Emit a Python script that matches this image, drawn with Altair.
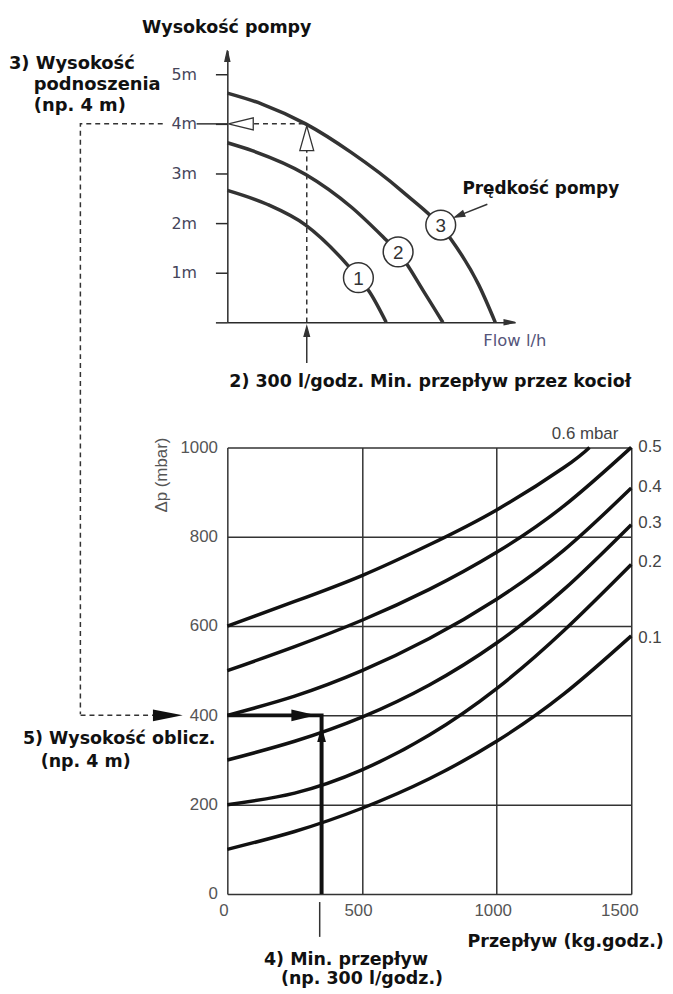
import altair as alt
import pandas as pd

# ---------------- top chart: pump curves (flow l/h, head m) ----------------
SPEED_NAMES = ["1", "2", "3"]
SPEED1_FLOW = [0, 150, 296, 450, 495, 536, 600]
SPEED1_HEAD = [2.66, 2.38, 1.96, 1.18, 0.90, 0.62, 0.0]
SPEED2_FLOW = [0, 94, 296, 469, 600, 645, 742, 814]
SPEED2_HEAD = [3.62, 3.46, 2.98, 2.32, 1.66, 1.42, 0.62, 0.0]
SPEED3_FLOW = [0, 131, 296, 469, 656, 844, 949, 1012]
SPEED3_HEAD = [4.62, 4.40, 4.00, 3.42, 2.66, 1.68, 0.76, 0.0]
BADGE_FLOW = [495, 645, 806]
BADGE_HEAD = [0.90, 1.42, 1.96]
HEAD_TICKS = [0, 1, 2, 3, 4, 5]
HEAD_MAX = 5.48
FLOW_MAX = 1087
MIN_FLOW = 300      # l/h
DESIGN_HEAD = 4     # m

# ---------------- bottom chart: pressure-drop curves ----------------
KG_FLOW = [0, 250, 500, 750, 1000, 1250, 1500]
KG_FLOW_06 = [0, 250, 500, 750, 1000, 1250, 1345]
DP_06 = [600, 655, 713, 782, 860, 955, 1000]
DP_05 = [500, 554, 613, 682, 765, 869, 1000]
DP_04 = [400, 443, 500, 572, 660, 770, 909]
DP_03 = [300, 342, 396, 468, 562, 682, 827]
DP_02 = [200, 226, 278, 356, 460, 590, 738]
DP_01 = [100, 140, 192, 258, 342, 448, 578]
CURVE_NAMES = ["0.6 mbar", "0.5", "0.4", "0.3", "0.2", "0.1"]
CURVE_LABEL_Q = [1205, 1526, 1526, 1526, 1526, 1526]
CURVE_LABEL_P = [1029, 1000, 911, 831, 744, 573]
DP_TICKS = [0, 200, 400, 600, 800, 1000]
KG_TICKS = [0, 500, 1000, 1500]
DESIGN_DP = 400
MIN_KG = 350

INK = "#2a2a2a"
BOLD = "DejaVu Sans"
SANS = "Liberation Sans"

# ======================= TOP PANEL =======================
txs = alt.Scale(domain=[0, FLOW_MAX], nice=False, zero=False)
tys = alt.Scale(domain=[0, HEAD_MAX], nice=False, zero=False)
txa = alt.Axis(title=None, grid=False, labels=False, ticks=False,
               domainColor=INK, domainWidth=1.5)
tya = alt.Axis(title=None, grid=False, values=HEAD_TICKS,
               labelExpr="datum.value == 0 ? '' : datum.value + 'm'",
               tickSize=12, tickWidth=1.5, tickColor=INK,
               domainColor=INK, domainWidth=1.5, labelPadding=19,
               labelFont="DejaVu Sans", labelFontSize=16, labelColor="#45455a")


def TX(field="f"):
    return alt.X(f"{field}:Q", scale=txs, axis=txa)


def TY(field="m"):
    return alt.Y(f"{field}:Q", scale=tys, axis=tya)


pump_rows = []
for name, fl, hd in zip(SPEED_NAMES, [SPEED1_FLOW, SPEED2_FLOW, SPEED3_FLOW],
                        [SPEED1_HEAD, SPEED2_HEAD, SPEED3_HEAD]):
    for i, (a, b) in enumerate(zip(fl, hd)):
        pump_rows.append({"speed": name, "i": i, "f": a, "m": b})
pump_df = pd.DataFrame(pump_rows)

pump_lines = alt.Chart(pump_df).mark_line(
    interpolate="monotone", color="#333", strokeWidth=3.5
).encode(x=TX(), y=TY(), detail="speed:N", order="i:Q")

top_dash_df = pd.DataFrame([
    {"seg": "a", "i": 0, "f": -244, "m": DESIGN_HEAD},
    {"seg": "a", "i": 1, "f": -555, "m": DESIGN_HEAD},
    {"seg": "a", "i": 2, "f": -555, "m": -7.9},
    {"seg": "b", "i": 0, "f": 101, "m": DESIGN_HEAD},
    {"seg": "b", "i": 1, "f": MIN_FLOW, "m": DESIGN_HEAD},
    {"seg": "c", "i": 0, "f": MIN_FLOW, "m": 0},
    {"seg": "c", "i": 1, "f": MIN_FLOW, "m": 3.46},
])
top_dash = alt.Chart(top_dash_df).mark_line(
    color="#333", strokeWidth=1.5, strokeDash=[5, 4]
).encode(x=TX(), y=TY(), detail="seg:N", order="i:Q")

top_rule_df = pd.DataFrame([
    {"f": -116, "f2": 0, "m": DESIGN_HEAD, "m2": DESIGN_HEAD},
    {"f": MIN_FLOW, "f2": MIN_FLOW, "m": -0.18, "m2": -0.82},
    {"f": 982, "f2": 876, "m": 2.38, "m2": 2.156},
])
top_rules = alt.Chart(top_rule_df).mark_rule(color="#333", strokeWidth=1.5).encode(
    x=TX(), x2=alt.X2("f2"), y=TY(), y2=alt.Y2("m2"))

top_head_df = pd.DataFrame([
    {"f": 0, "m": 5.37, "shape": "M0,-1L0.45,1L-0.45,1Z", "size": 121, "angle": 0, "fill": "#333"},
    {"f": 1066, "m": 0, "shape": "M1,0L-1,-0.45L-1,0.45Z", "size": 121, "angle": 0, "fill": "#333"},
    {"f": 51, "m": DESIGN_HEAD, "shape": "M-1,0L1,-0.48L1,0.48Z", "size": 625, "angle": 0, "fill": "white"},
    {"f": MIN_FLOW, "m": 3.71, "shape": "M0,-1L0.56,1L-0.56,1Z", "size": 625, "angle": 0, "fill": "white"},
    {"f": MIN_FLOW, "m": -0.18, "shape": "M0,-1L0.55,1L-0.55,1Z", "size": 100, "angle": 0, "fill": "#333"},
    {"f": 876, "m": 2.156, "shape": "M0,-1L0.6,1L-0.6,1Z", "size": 100, "angle": 248, "fill": "#333"},
])
top_heads = alt.Chart(top_head_df).mark_point(
    filled=True, stroke="#333", strokeWidth=1.3, opacity=1, fillOpacity=1
).encode(x=TX(), y=TY(),
         shape=alt.Shape("shape:N", scale=None),
         size=alt.Size("size:Q", scale=None),
         angle=alt.Angle("angle:Q", scale=None),
         fill=alt.Fill("fill:N", scale=None))

badge_df = pd.DataFrame({"f": BADGE_FLOW, "m": BADGE_HEAD, "t": SPEED_NAMES})
badges = alt.Chart(badge_df).mark_point(
    shape="circle", size=900, filled=True, fill="white", stroke="#333",
    strokeWidth=1.5, opacity=1, fillOpacity=1
).encode(x=TX(), y=TY())
badge_txt = alt.Chart(badge_df).mark_text(
    font=SANS, fontSize=19, color="#333", align="center", baseline="middle", dy=1
).encode(x=TX(), y=TY(), text="t:N")

top_bold_df = pd.DataFrame([
    {"t": "Wysokość pompy", "f": -322, "m": 5.84, "fs": 17.6},
    {"t": "3) Wysokość", "f": -825, "m": 5.10, "fs": 18},
    {"t": "podnoszenia", "f": -731, "m": 4.68, "fs": 18},
    {"t": "(np. 4 m)", "f": -731, "m": 4.26, "fs": 18},
    {"t": "Prędkość pompy", "f": 888, "m": 2.59, "fs": 17},
    {"t": "2) 300 l/godz. Min. przepływ przez kocioł", "f": 7.5, "m": -1.30, "fs": 17.6},
])
top_bold = alt.Chart(top_bold_df).mark_text(
    font=BOLD, fontWeight="bold", color="#111",
    align="left", baseline="alphabetic"
).encode(x=TX(), y=TY(), text="t:N", size=alt.Size("fs:Q", scale=None))

flow_lbl = alt.Chart(pd.DataFrame([{"t": "Flow l/h", "f": 967, "m": -0.48}])).mark_text(
    font="DejaVu Sans", fontSize=16.5, color="#55557a", align="left", baseline="alphabetic"
).encode(x=TX(), y=TY(), text="t:N")

top = alt.layer(pump_lines, top_dash, top_rules, top_heads, badges, badge_txt,
                top_bold, flow_lbl).properties(width=290, height=274)

# ======================= BOTTOM PANEL =======================
bxs = alt.Scale(domain=[0, 1500], nice=False, zero=False)
bys = alt.Scale(domain=[0, 1000], nice=False, zero=False)
bxa = alt.Axis(title=None, values=KG_TICKS, format="d", grid=True, gridColor="#333",
               gridWidth=1.5, gridOpacity=1, domain=False, ticks=False, labelFont=SANS,
               labelFontSize=17, labelColor="#555", labelPadding=9, labelFlush=False,
               labelOffset={"condition": {"test": "datum.value == 1500", "value": -12}, "value": -4})
bya = alt.Axis(title=None, values=DP_TICKS, format="d", grid=True, gridColor="#333",
               gridWidth=1.5, gridOpacity=1, domain=False, ticks=False, labelFont=SANS,
               labelFontSize=17, labelColor="#555", labelPadding=10, labelFlush=False)


def BX(field="q"):
    return alt.X(f"{field}:Q", scale=bxs, axis=bxa)


def BY(field="p"):
    return alt.Y(f"{field}:Q", scale=bys, axis=bya)


dp_rows = []
for name, xs, ys in zip(CURVE_NAMES,
                        [KG_FLOW_06, KG_FLOW, KG_FLOW, KG_FLOW, KG_FLOW, KG_FLOW],
                        [DP_06, DP_05, DP_04, DP_03, DP_02, DP_01]):
    for i, (a, b) in enumerate(zip(xs, ys)):
        dp_rows.append({"c": name, "i": i, "q": a, "p": b})
dp_df = pd.DataFrame(dp_rows)

dp_lines = alt.Chart(dp_df).mark_line(
    interpolate="natural", color="#111", strokeWidth=3.5
).encode(x=BX(), y=BY(), detail="c:N", order="i:Q")

bot_dash = alt.Chart(pd.DataFrame([
    {"i": 0, "q": -545, "p": DESIGN_DP}, {"i": 1, "q": -269, "p": DESIGN_DP}
])).mark_line(color="#333", strokeWidth=1.5, strokeDash=[5, 4]).encode(
    x=BX(), y=BY(), order="i:Q")

thick = alt.Chart(pd.DataFrame([
    {"i": 0, "q": 0, "p": DESIGN_DP},
    {"i": 1, "q": MIN_KG, "p": DESIGN_DP},
    {"i": 2, "q": MIN_KG, "p": 0},
])).mark_line(color="#111", strokeWidth=4, strokeJoin="miter", strokeCap="butt").encode(
    x=BX(), y=BY(), order="i:Q")

pointer = alt.Chart(pd.DataFrame([{"q": 343, "p": -18, "p2": -96}])).mark_rule(
    color="#333", strokeWidth=1.5).encode(x=BX(), y=BY(), y2=alt.Y2("p2"))

bot_head_df = pd.DataFrame([
    {"q": -221, "p": DESIGN_DP, "shape": "M1,0L-1,-0.4L-1,0.4Z", "size": 900},
    {"q": 284, "p": DESIGN_DP, "shape": "M1,0L-1,-0.48L-1,0.48Z", "size": 625},
    {"q": MIN_KG, "p": 358, "shape": "M0,-1L0.55,1L-0.55,1Z", "size": 256},
])
bot_heads = alt.Chart(bot_head_df).mark_point(
    filled=True, color="#111", opacity=1, fillOpacity=1
).encode(x=BX(), y=BY(),
         shape=alt.Shape("shape:N", scale=None),
         size=alt.Size("size:Q", scale=None))

curve_lbl = alt.Chart(pd.DataFrame({"t": CURVE_NAMES, "q": CURVE_LABEL_Q, "p": CURVE_LABEL_P})).mark_text(
    font=SANS, fontSize=17, color="#444", align="left", baseline="middle"
).encode(x=BX(), y=BY(), text="t:N")

dp_title = alt.Chart(pd.DataFrame([{"t": "Δp (mbar)", "q": -243, "p": 938}])).mark_text(
    font=SANS, fontSize=17, color="#555", align="center", baseline="middle", angle=270
).encode(x=BX(), y=BY(), text="t:N")

bot_bold_df = pd.DataFrame([
    {"t": "5) Wysokość oblicz.", "q": -759, "p": 336},
    {"t": "(np. 4 m)", "q": -693, "p": 284},
    {"t": "Przepływ (kg.godz.)", "q": 892, "p": -118},
    {"t": "4) Min. przepływ", "q": 136, "p": -158},
    {"t": "(np. 300 l/godz.)", "q": 199, "p": -202},
])
bot_bold = alt.Chart(bot_bold_df).mark_text(
    font=BOLD, fontWeight="bold", fontSize=17.6, color="#111",
    align="left", baseline="alphabetic"
).encode(x=BX(), y=BY(), text="t:N")

bottom = alt.layer(dp_lines, bot_dash, thick, pointer, bot_heads, curve_lbl,
                   dp_title, bot_bold).properties(width=407, height=450)

chart = alt.vconcat(top, bottom, spacing=126, bounds="flush").configure_view(
    stroke=None
).properties(padding={"left": 0, "top": 7, "right": 0, "bottom": 0})

chart.save("out.html", embed_options={"renderer": "svg", "actions": False})
